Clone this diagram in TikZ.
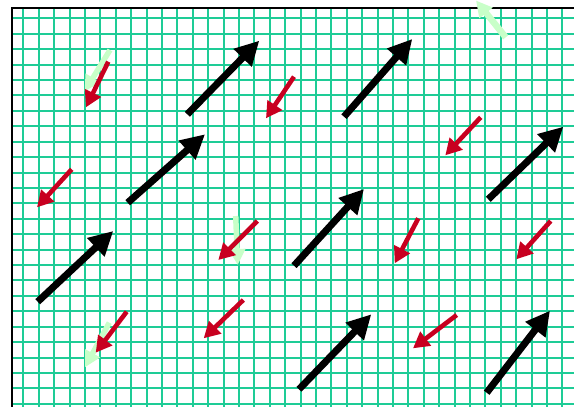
\documentclass[tikz,border=0pt]{standalone}
\usetikzlibrary{arrows.meta}
\definecolor{gridc}{RGB}{30,204,150}
\definecolor{redc}{RGB}{200,0,32}
\definecolor{greenc}{RGB}{200,255,200}
\begin{document}
\begin{tikzpicture}[x=1pt,y=-1pt,
  gridline/.style={gridc,line width=2pt},
  frameline/.style={black,line width=2pt},
  blackarrow/.style={black,line width=7pt,-{Triangle[length=24pt,width=24pt]}},
  redarrow/.style={redc,line width=4.6pt,-{Triangle[length=16pt,width=17pt]}},
  greenarrow/.style={greenc,line width=5.5pt,-{Triangle[length=16pt,width=16pt]}}]
\useasboundingbox (0,0) rectangle (574,407);
% grid
\foreach \i in {0,...,35} \draw[gridline] ({23.3+15.4*\i},8.3) -- ({23.3+15.4*\i},407);
\foreach \j in {0,...,25} \draw[gridline] (11.7,{18.3+15.42*\j}) -- (574,{18.3+15.42*\j});
% frame
\coordinate (fl) at (11.7,407);
\coordinate (fc) at (11.7,8.3);
\coordinate (fr) at (574,8.3);
\draw[frameline] (fl) -- (fc) -- (fr);
% green arrows
\coordinate (g1a) at (110,50);    \coordinate (g1b) at (84.5,91.5);
\coordinate (g2a) at (235.7,216); \coordinate (g2b) at (237.7,265);
\coordinate (g3a) at (109.3,322.7); \coordinate (g3b) at (85,367.3);
\coordinate (g4a) at (505.7,37.3); \coordinate (g4b) at (476,0.5);
\draw[greenarrow] (g1a) -- (g1b);
\draw[greenarrow] (g2a) -- (g2b);
\draw[greenarrow] (g3a) -- (g3b);
\draw[greenarrow,line width=6.5pt] (g4a) -- (g4b);
% black arrows
\coordinate (b1a) at (187.3,114.3); \coordinate (b1b) at (259.3,40.7);
\coordinate (b2a) at (344,116.7);   \coordinate (b2b) at (412.3,39);
\coordinate (b3a) at (127.7,202.7); \coordinate (b3b) at (205,134.3);
\coordinate (b4a) at (488.3,199.3); \coordinate (b4b) at (563.3,126.7);
\coordinate (b5a) at (37.7,301.7);  \coordinate (b5b) at (113.3,231);
\coordinate (b6a) at (294,265.7);   \coordinate (b6b) at (364,189);
\coordinate (b7a) at (299,389.3);   \coordinate (b7b) at (371.3,314.3);
\coordinate (b8a) at (486.7,392.7); \coordinate (b8b) at (550,310.7);
\foreach \n in {1,...,8} \draw[blackarrow] (b\n a) -- (b\n b);
% red arrows
\coordinate (r1a) at (108.3,61.7);  \coordinate (r1b) at (86,107.3);
\coordinate (r2a) at (294,76.7);    \coordinate (r2b) at (266,118.3);
\coordinate (r3a) at (480.7,117.3); \coordinate (r3b) at (445.3,155.3);
\coordinate (r4a) at (71.7,169.3);  \coordinate (r4b) at (37,207.3);
\coordinate (r5a) at (257.3,221);   \coordinate (r5b) at (218.3,260);
\coordinate (r6a) at (418.3,218.3); \coordinate (r6b) at (394.7,263.3);
\coordinate (r7a) at (550.7,221);   \coordinate (r7b) at (516.3,259.3);
\coordinate (r8a) at (126.7,311.7); \coordinate (r8b) at (95.7,352.7);
\coordinate (r9a) at (243.3,300);   \coordinate (r9b) at (203.7,338.3);
\coordinate (r10a) at (456.7,315);  \coordinate (r10b) at (413,348.3);
\foreach \n in {1,...,10} \draw[redarrow] (r\n a) -- (r\n b);
\end{tikzpicture}
\end{document}
